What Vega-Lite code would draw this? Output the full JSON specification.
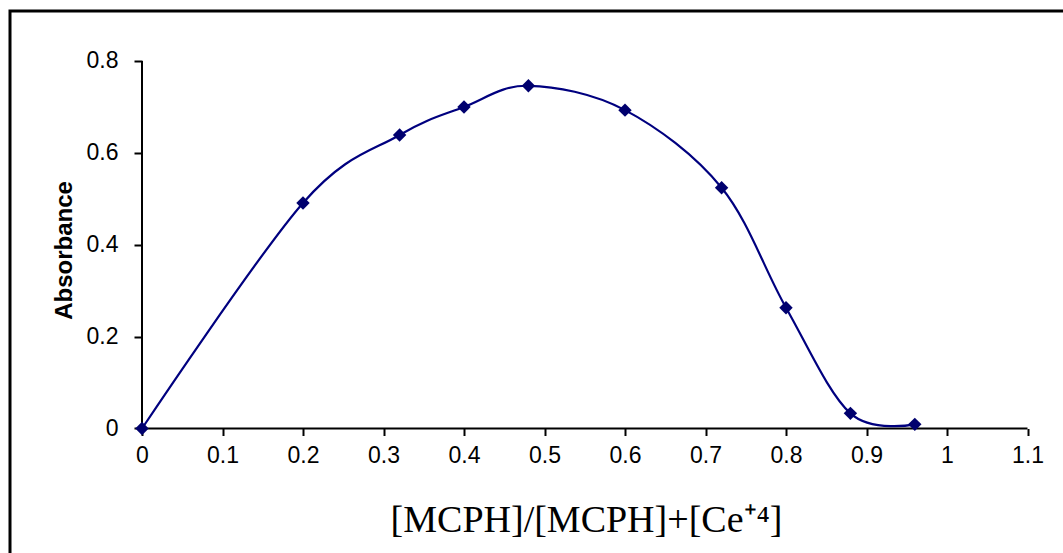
{
  "$schema": "https://vega.github.io/schema/vega-lite/v6.json",
  "width": 1055,
  "height": 544,
  "autosize": {"type": "none"},
  "padding": {"left": 10, "top": 11, "right": -2, "bottom": -2},
  "background": "white",
  "config": {
    "view": {"stroke": "black", "strokeWidth": 3, "fill": "white"}
  },
  "data": {
    "values": [
      {"ratio": 0.0, "absorbance": 0.0},
      {"ratio": 0.2, "absorbance": 0.491},
      {"ratio": 0.32, "absorbance": 0.639},
      {"ratio": 0.4, "absorbance": 0.7},
      {"ratio": 0.48, "absorbance": 0.746},
      {"ratio": 0.6, "absorbance": 0.693},
      {"ratio": 0.72, "absorbance": 0.524},
      {"ratio": 0.8, "absorbance": 0.263},
      {"ratio": 0.88, "absorbance": 0.033},
      {"ratio": 0.96, "absorbance": 0.009}
    ]
  },
  "layer": [
    {
      "data": {"values": [{}]},
      "mark": {"type": "rule", "color": "black", "strokeWidth": 2},
      "encoding": {
        "x": {"datum": 0, "type": "quantitative"},
        "x2": {"datum": 1.1},
        "y": {"datum": 0, "type": "quantitative"}
      }
    },
    {
      "data": {"values": [{}]},
      "mark": {"type": "rule", "color": "black", "strokeWidth": 2},
      "encoding": {
        "x": {"datum": 0, "type": "quantitative"},
        "y": {"datum": 0, "type": "quantitative"},
        "y2": {"datum": 0.8}
      }
    },
    {
      "mark": {"type": "line", "interpolate": "cardinal", "color": "#00007f", "strokeWidth": 2.2},
      "encoding": {
        "x": {
          "field": "ratio",
          "type": "quantitative",
          "scale": {"domain": [-0.16398, 1.14658], "nice": false, "zero": false},
          "axis": {
            "orient": "bottom",
            "offset": -126.5,
            "values": [0, 0.1, 0.2, 0.3, 0.4, 0.5, 0.6, 0.7, 0.8, 0.9, 1, 1.1],
            "format": "~g",
            "domain": false,
            "grid": false,
            "ticks": true,
            "tickSize": 7,
            "tickWidth": 2,
            "tickColor": "black",
            "labelFont": "Liberation Sans",
            "labelFontSize": 23,
            "labelColor": "black",
            "labelPadding": 9,
            "labelOverlap": false,
            "labelFlush": false,
            "labelBound": false,
            "title": "[MCPH]/[MCPH]+[Ce⁺⁴]",
            "titleFont": "Liberation Serif",
            "titleFontSize": 38,
            "titleFontWeight": "normal",
            "titleColor": "black",
            "titleAlign": "center",
            "titleBaseline": "alphabetic",
            "titleX": 576,
            "titleY": 103
          }
        },
        "y": {
          "field": "absorbance",
          "type": "quantitative",
          "scale": {"domain": [-0.27536, 0.90879], "nice": false, "zero": false},
          "axis": {
            "orient": "left",
            "offset": -132,
            "values": [0, 0.2, 0.4, 0.6, 0.8],
            "format": "~g",
            "domain": false,
            "grid": false,
            "ticks": true,
            "tickSize": 8,
            "tickWidth": 2,
            "tickColor": "black",
            "labelFont": "Liberation Sans",
            "labelFontSize": 23,
            "labelColor": "black",
            "labelPadding": 16,
            "labelOverlap": false,
            "labelFlush": false,
            "labelBound": false,
            "title": "Absorbance",
            "titleFont": "Liberation Sans",
            "titleFontSize": 24,
            "titleFontWeight": "bold",
            "titleColor": "black",
            "titleAngle": -90,
            "titleAlign": "center",
            "titleBaseline": "alphabetic",
            "titleX": -71,
            "titleY": 239
          }
        }
      }
    },
    {
      "mark": {"type": "point", "shape": "diamond", "filled": true, "size": 180, "color": "#00006e", "opacity": 1},
      "encoding": {
        "x": {"field": "ratio", "type": "quantitative"},
        "y": {"field": "absorbance", "type": "quantitative"}
      }
    }
  ]
}
